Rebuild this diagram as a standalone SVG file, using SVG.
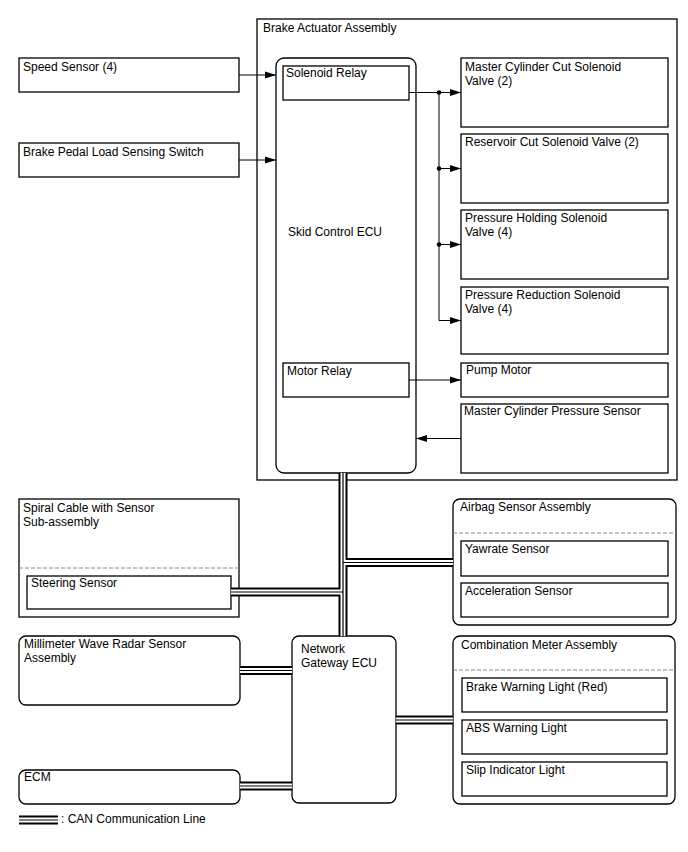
<svg xmlns="http://www.w3.org/2000/svg" width="688" height="852" viewBox="0 0 688 852">
<defs>
<style>
.b{fill:#fff;stroke:#000;stroke-width:1.3}
.d{fill:none;stroke:#888;stroke-width:1;stroke-dasharray:4 2}
text{font-family:"Liberation Sans",Arial,sans-serif;font-size:12px;fill:#000}
.w{fill:none;stroke:#000;stroke-width:1}
.c1{fill:none;stroke:#000;stroke-width:9}
.c2{fill:none;stroke:#fff;stroke-width:5}
.c3{fill:none;stroke:#000;stroke-width:1.2}
</style>
<marker id="ah" markerUnits="userSpaceOnUse" markerWidth="11" markerHeight="8" refX="11" refY="4" orient="auto"><path d="M0,0.5 L11,4 L0,7.5 Z" fill="#000"/></marker>
<path id="bus" d="M343,473 V636 M231,592 H343 M343,562.5 H453 M240,670.5 H292 M240,786 H292 M396,720 H453 M19,820 H58"/>
</defs>
<g id="brake-actuator-assembly"><rect class="b" x="257" y="19" width="420" height="461"/><text x="263" y="32">Brake Actuator Assembly</text></g>
<g id="skid-control-ecu"><rect class="b" x="276" y="58" width="140" height="415" rx="8"/><text x="288" y="236">Skid Control ECU</text></g>
<g id="solenoid-relay"><rect class="b" x="283" y="66" width="126" height="34"/><text x="286" y="77">Solenoid Relay</text></g>
<g id="motor-relay"><rect class="b" x="283" y="363" width="126" height="34"/><text x="287" y="375">Motor Relay</text></g>
<g id="speed-sensor"><rect class="b" x="19" y="58" width="220" height="34"/><text x="23" y="71">Speed Sensor (4)</text></g>
<g id="brake-pedal-switch"><rect class="b" x="19" y="143" width="220" height="34"/><text x="23" y="156">Brake Pedal Load Sensing Switch</text></g>
<g id="mc-cut-valve"><rect class="b" x="461" y="58" width="207" height="69"/><text x="465" y="71">Master Cylinder Cut Solenoid</text><text x="465" y="85">Valve (2)</text></g>
<g id="reservoir-cut-valve"><rect class="b" x="461" y="134" width="207" height="69"/><text x="465" y="146">Reservoir Cut Solenoid Valve (2)</text></g>
<g id="pressure-holding-valve"><rect class="b" x="461" y="210" width="207" height="69"/><text x="465" y="222">Pressure Holding Solenoid</text><text x="465" y="236">Valve (4)</text></g>
<g id="pressure-reduction-valve"><rect class="b" x="461" y="287" width="207" height="67"/><text x="465" y="299">Pressure Reduction Solenoid</text><text x="465" y="313">Valve (4)</text></g>
<g id="pump-motor"><rect class="b" x="461" y="363" width="207" height="34"/><text x="466" y="374">Pump Motor</text></g>
<g id="mc-pressure-sensor"><rect class="b" x="461" y="404" width="207" height="69"/><text x="464" y="415">Master Cylinder Pressure Sensor</text></g>
<g id="spiral-cable"><rect class="b" x="19" y="499" width="220" height="118"/><line class="d" x1="19" y1="568" x2="239" y2="568"/><text x="23" y="512">Spiral Cable with Sensor</text><text x="23" y="526">Sub-assembly</text></g>
<g id="steering-sensor"><rect class="b" x="27" y="576" width="204" height="33"/><text x="31" y="587">Steering Sensor</text></g>
<g id="airbag-sensor-assembly"><rect class="b" x="453" y="499" width="223" height="126" rx="7"/><line class="d" x1="453" y1="533" x2="676" y2="533"/><text x="460" y="511">Airbag Sensor Assembly</text></g>
<g id="yawrate-sensor"><rect class="b" x="461" y="541" width="207" height="35"/><text x="465" y="553">Yawrate Sensor</text></g>
<g id="acceleration-sensor"><rect class="b" x="461" y="583" width="207" height="34"/><text x="465" y="595">Acceleration Sensor</text></g>
<g id="mmw-radar"><rect class="b" x="19" y="636" width="221" height="69" rx="7"/><text x="24" y="648">Millimeter Wave Radar Sensor</text><text x="24" y="662">Assembly</text></g>
<g id="network-gateway-ecu"><rect class="b" x="292" y="636" width="104" height="167" rx="7"/><text x="301" y="653">Network</text><text x="301" y="667">Gateway ECU</text></g>
<g id="ecm"><rect class="b" x="19" y="770" width="221" height="34" rx="7"/><text x="24" y="781">ECM</text></g>
<g id="combination-meter"><rect class="b" x="453" y="636" width="222" height="168" rx="7"/><line class="d" x1="453" y1="670" x2="675" y2="670"/><text x="461" y="649">Combination Meter Assembly</text></g>
<g id="brake-warning-light"><rect class="b" x="462" y="678" width="205" height="34"/><text x="466" y="691">Brake Warning Light (Red)</text></g>
<g id="abs-warning-light"><rect class="b" x="462" y="720" width="205" height="34"/><text x="466" y="732">ABS Warning Light</text></g>
<g id="slip-indicator-light"><rect class="b" x="462" y="762" width="205" height="34"/><text x="466" y="774">Slip Indicator Light</text></g>
<g id="connectors">
<line class="w" x1="239" y1="75" x2="276" y2="75" marker-end="url(#ah)"/>
<line class="w" x1="239" y1="160" x2="276" y2="160" marker-end="url(#ah)"/>
<line class="w" x1="409" y1="92.5" x2="461" y2="92.5" marker-end="url(#ah)"/>
<path class="w" d="M439,92.5 V320.5 H461" marker-end="url(#ah)"/>
<line class="w" x1="439" y1="168.5" x2="461" y2="168.5" marker-end="url(#ah)"/>
<line class="w" x1="439" y1="244.5" x2="461" y2="244.5" marker-end="url(#ah)"/>
<circle cx="439" cy="92.5" r="2.3"/><circle cx="439" cy="168.5" r="2.3"/><circle cx="439" cy="244.5" r="2.3"/>
<line class="w" x1="409" y1="380" x2="461" y2="380" marker-end="url(#ah)"/>
<line class="w" x1="461" y1="438.5" x2="416" y2="438.5" marker-end="url(#ah)"/>
<use href="#bus" class="c1"/>
<use href="#bus" class="c2"/>
<use href="#bus" class="c3"/>
</g>
<g id="legend"><text x="61" y="823">: CAN Communication Line</text></g>
</svg>
